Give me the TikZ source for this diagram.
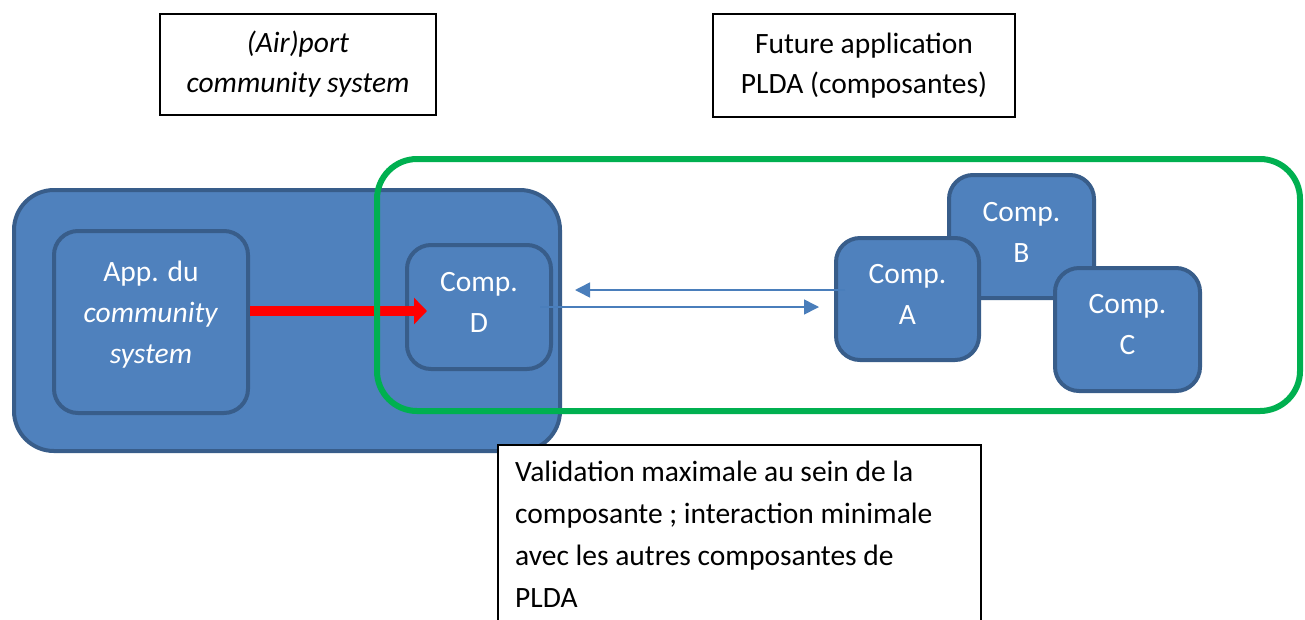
\documentclass[tikz,border=0pt]{standalone}
\usepackage{fontspec}
\setmainfont{Carlito}
\usetikzlibrary{arrows.meta}
\definecolor{boxblue}{HTML}{4F81BD}
\definecolor{boxedge}{HTML}{385D8A}
\definecolor{zonegreen}{HTML}{00B050}
\definecolor{linkblue}{HTML}{4A7EBB}
\tikzset{
  bluebox/.style={draw=boxedge, fill=boxblue, line width=4pt, rounded corners=#1,
    inner sep=0pt},
  bluebox/.default=24pt,
  boxtext/.style={text=white, align=center, inner sep=0pt,
    font=\fontsize{29.5}{41}\selectfont},
  labelbox/.style={draw=black, line width=1.5pt, fill=white, align=center, inner sep=0pt,
    font=\fontsize{29.5}{40}\selectfont},
  link/.style={draw=linkblue, line width=1.6pt, -{Triangle[length=15pt,width=15pt]}},
}
\begin{document}
\begin{tikzpicture}[x=1pt,y=-1pt]
\useasboundingbox (0,0) rectangle (1305,619);

% host application and its parts
\node[bluebox=40pt, minimum width=546pt, minimum height=261pt] (host) at (287,320.5) {};
\node[bluebox, minimum width=194pt, minimum height=182pt,
  label={[boxtext,yshift=7.5pt]center:{App. du\\\textit{community}\\\textit{system}}}]
  (app) at (151,322) {};
\node[bluebox, minimum width=144pt, minimum height=124pt,
  label={[boxtext,yshift=4.5pt]center:{Comp.\\D}}] (compD) at (479,307) {};

% feed from the community system into component D
\draw[draw=red, line width=10pt, -{Triangle[length=13pt,width=26pt]}]
  ([yshift=11pt]app.east) -- ([xshift=22pt,yshift=-4pt]compD.west);

% PLDA zone
\node[draw=zonegreen, line width=6pt, rounded corners=40pt,
  minimum width=923pt, minimum height=252pt] (zone) at (838.5,285) {};

% components of the future application
\node[bluebox, minimum width=145pt, minimum height=123pt,
  label={[boxtext,yshift=4pt]center:{Comp.\\B}}] (compB) at (1021.5,236.5) {};
\node[bluebox, minimum width=143pt, minimum height=122pt,
  label={[boxtext,yshift=5pt]center:{Comp.\\A}}] (compA) at (907.5,299) {};
\node[bluebox, minimum width=145pt, minimum height=123pt,
  label={[boxtext,yshift=4.5pt]center:{Comp.\\C}}] (compC) at (1127.5,329.5) {};

% exchanges between D and A
\draw[link] ([xshift=11pt,yshift=9pt]compA.west) -- ([xshift=22pt,yshift=17pt]compD.east);
\draw[link] ([xshift=-13pt]compD.east) -- ([xshift=-15pt,yshift=-8pt]compA.west);

% captions
\node[labelbox, minimum width=276pt, minimum height=101pt] (acs) at (298,64.5)
  {\textit{(Air)port}\\\textit{community system}};
\node[labelbox, minimum width=302pt, minimum height=103pt] (plda) at (864,65.5)
  {Future application\\PLDA (composantes)};
\node[labelbox, anchor=north west, minimum width=483pt, minimum height=200pt] (note) at (497,444) {};
\node[anchor=north west, align=left, inner sep=0pt, font=\fontsize{29.5}{42}\selectfont]
  (notetext) at ([xshift=18pt,yshift=-17pt]note.north west)
  {Validation maximale au sein de la\\composante ; interaction minimale\\avec les autres composantes de\\PLDA};
\end{tikzpicture}
\end{document}
